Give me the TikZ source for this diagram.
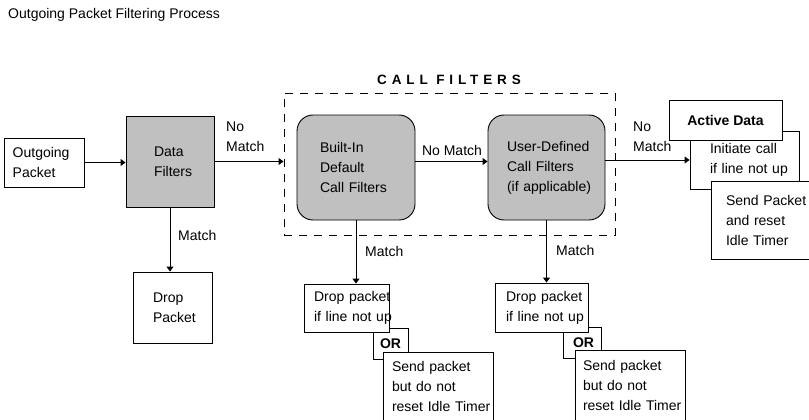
\documentclass[tikz,border=0pt]{standalone}
\usepackage{fontspec}
\setmainfont{Liberation Sans}
\usetikzlibrary{arrows.meta}
\hyphenpenalty=10000
\exhyphenpenalty=10000
\definecolor{boxgray}{RGB}{192,192,192}
\tikzset{
  txt/.style={font=\fontsize{14}{20}\selectfont, inner sep=0pt},
  plainbox/.style={draw, line width=0.9pt, fill=white, align=left, inner ysep=0pt, font=\fontsize{14}{20}\selectfont},
  graybox/.style={plainbox, fill=boxgray},
  roundbox/.style={graybox, rounded corners=16pt},
  boldbox/.style={plainbox, font=\bfseries\fontsize{14}{20}\selectfont},
  dashbox/.style={draw, line width=0.9pt, dash pattern=on 8pt off 7pt, inner sep=0pt},
  arr/.style={draw, line width=0.9pt, -{Triangle[length=5pt,width=7pt]}},
  conn/.style={draw, line width=0.9pt}
}
\begin{document}
\begin{tikzpicture}[x=1pt,y=-1pt]
\fill[white] (0,0) rectangle (809,420);
\useasboundingbox (0,0) rectangle (809,420);

\node[txt, anchor=west] (title) at (8,15) {Outgoing Packet Filtering Process};

% call filters group
\node[dashbox, minimum width=331pt, minimum height=142pt] (cf) at (449.5,164) {};
\node[txt, font=\bfseries\fontsize{13.5}{16}\selectfont] (cft) at (449,80) {\addfontfeature{LetterSpace=36}CALL FILTERS};

\node[plainbox, minimum height=49pt, inner xsep=8.7pt, text width=62.6pt] (out) at (44,162.5) {Outgoing\\Packet};
\node[graybox, minimum height=91pt, inner xsep=28pt, text width=32pt] (df) at (170,161.5) {Data\\Filters};
\node[plainbox, minimum height=71pt, inner xsep=20pt, text width=39pt] (drop) at (172.5,307.5) {Drop\\Packet};

\node[roundbox, minimum height=105pt, inner xsep=23pt, text width=72pt] (bi) at (356,167.5) {Built-In\\Default\\Call~Filters};
\node[roundbox, minimum height=105pt, inner xsep=19pt, text width=79pt] (ud) at (546.5,167.5) {User-Defined\\Call~Filters\\(if~applicable)};

% active data group
\node[plainbox, minimum height=58pt, inner xsep=20pt, text width=69pt] (init) at (744.5,160) {Initiate~call\\if~line~not~up};
\node[boldbox, align=center, minimum height=40pt, minimum width=113pt, inner xsep=0pt] (active) at (725.5,120) {Active~Data};
\node[plainbox, minimum height=78pt, inner xsep=15pt, text width=71pt] (sendp) at (761.5,220) {Send~Packet\\and~reset\\Idle~Timer};

% lower left group
\node[boldbox, minimum height=31pt, inner xsep=7pt, text width=21pt] (or1) at (390.5,343.5) {OR};
\node[plainbox, minimum height=48pt, inner xsep=10pt, text width=65pt] (drop1) at (346.5,308) {Drop~packet\\if~line~not~up};
\node[plainbox, minimum height=69pt, inner xsep=9pt, text width=92pt] (send1) at (438,386.5) {Send~packet\\but~do~not\\reset~Idle~Timer};

% lower right group
\node[boldbox, minimum height=31pt, inner xsep=10pt, text width=18pt] (or2) at (582,342.5) {OR};
\node[plainbox, minimum height=49pt, inner xsep=11pt, text width=71pt] (drop2) at (541.5,307.5) {Drop~packet\\if~line~not~up};
\node[plainbox, minimum height=71pt, inner xsep=8pt, text width=94pt] (send2) at (630,385.5) {Send~packet\\but~do~not\\reset~Idle~Timer};

% connectors
\draw[arr] (out.east) -- (out.east -| df.west);
\draw[arr] (df.east) -- (df.east -| cf.west);
\draw[arr] (bi.east |- df.east) -- (ud.west |- df.east);
\draw[arr] (ud.east |- init.west) -- (init.west);
\draw[arr] (df.south) -- (df.south |- drop.north);
\draw[arr] (bi.south) -- (bi.south |- drop1.north);
\draw[arr] (ud.south) -- (ud.south |- drop2.north);

% labels
\node[txt, anchor=west, align=left] (nm1) at (226,137) {No\\Match};
\node[txt] (nm2) at (452,150) {No Match};
\node[txt, anchor=west, align=left] (nm3) at (633,137) {No\\Match};
\node[txt, anchor=west] (m1) at (178,235) {Match};
\node[txt, anchor=west] (m2) at (365,251) {Match};
\node[txt, anchor=west] (m3) at (556,250) {Match};
\end{tikzpicture}
\end{document}
